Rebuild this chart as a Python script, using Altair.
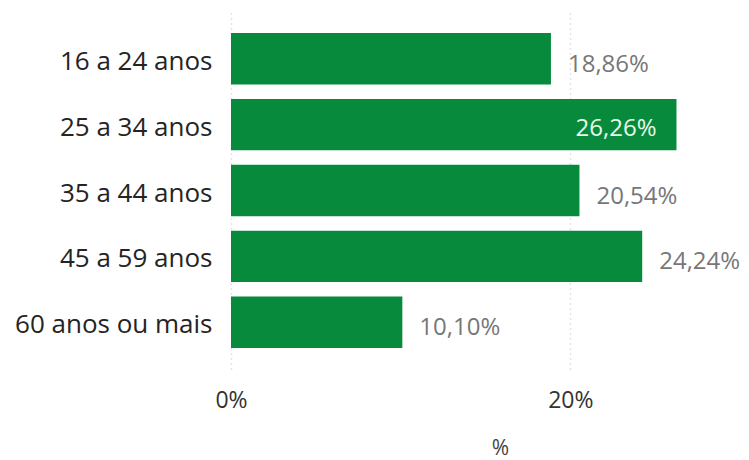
import altair as alt
import pandas as pd

categories = ["16 a 24 anos", "25 a 34 anos", "35 a 44 anos", "45 a 59 anos", "60 anos ou mais"]
values = [18.86, 26.26, 20.54, 24.24, 10.10]
tick_values = [0, 20]

df = pd.DataFrame({"faixa": categories, "pct": values})
df["label"] = [f"{v:.2f}".replace(".", ",") + "%" for v in values]

FONT = "Open Sans"
GREEN = "#078a3c"

y = alt.Y(
    "faixa:N", sort=categories, title=None,
    scale=alt.Scale(paddingInner=0.22, paddingOuter=0.32),
    axis=alt.Axis(domain=False, ticks=False, labelFontSize=26, labelColor="#252423",
                  labelPadding=19, labelFont=FONT, labelLimit=300, labelOffset=3),
)
x = alt.X(
    "pct:Q", title="%",
    scale=alt.Scale(domain=[0, 28], nice=False, zero=True),
    axis=alt.Axis(values=tick_values, labelExpr="datum.value + '%'", domain=False, ticks=False,
                  grid=True, gridDash=[1, 4], gridColor="#c8c8c8", gridWidth=1.5,
                  labelFontSize=23, labelColor="#333333", labelPadding=20, labelFont=FONT,
                  labelFlush=False, labelAlign="center",
                  titleFontSize=21, titleColor="#444444", titleFontWeight="normal",
                  titleFont=FONT, titleX=269, titleY=79, titleBaseline="middle"),
)

base = alt.Chart(df).encode(x=x, y=y)
bars = base.mark_bar(color=GREEN)
outside = base.transform_filter("datum.pct < 25").mark_text(
    align="left", dx=17, dy=6, fontSize=24, color="#777777", font=FONT
).encode(text="label:N")
inside = base.transform_filter("datum.pct >= 25").mark_text(
    align="right", dx=-20, dy=4, fontSize=24, color="#e8fbe9", font=FONT
).encode(text="label:N")

chart = (
    alt.layer(bars, outside, inside)
    .properties(width=475, height=357, autosize=alt.AutoSizeParams(type="none"),
                padding={"left": 223, "top": 4, "right": 35, "bottom": 100})
    .configure_view(stroke=None)
)

chart.save("out.html", embed_options={"renderer": "svg", "actions": False})
